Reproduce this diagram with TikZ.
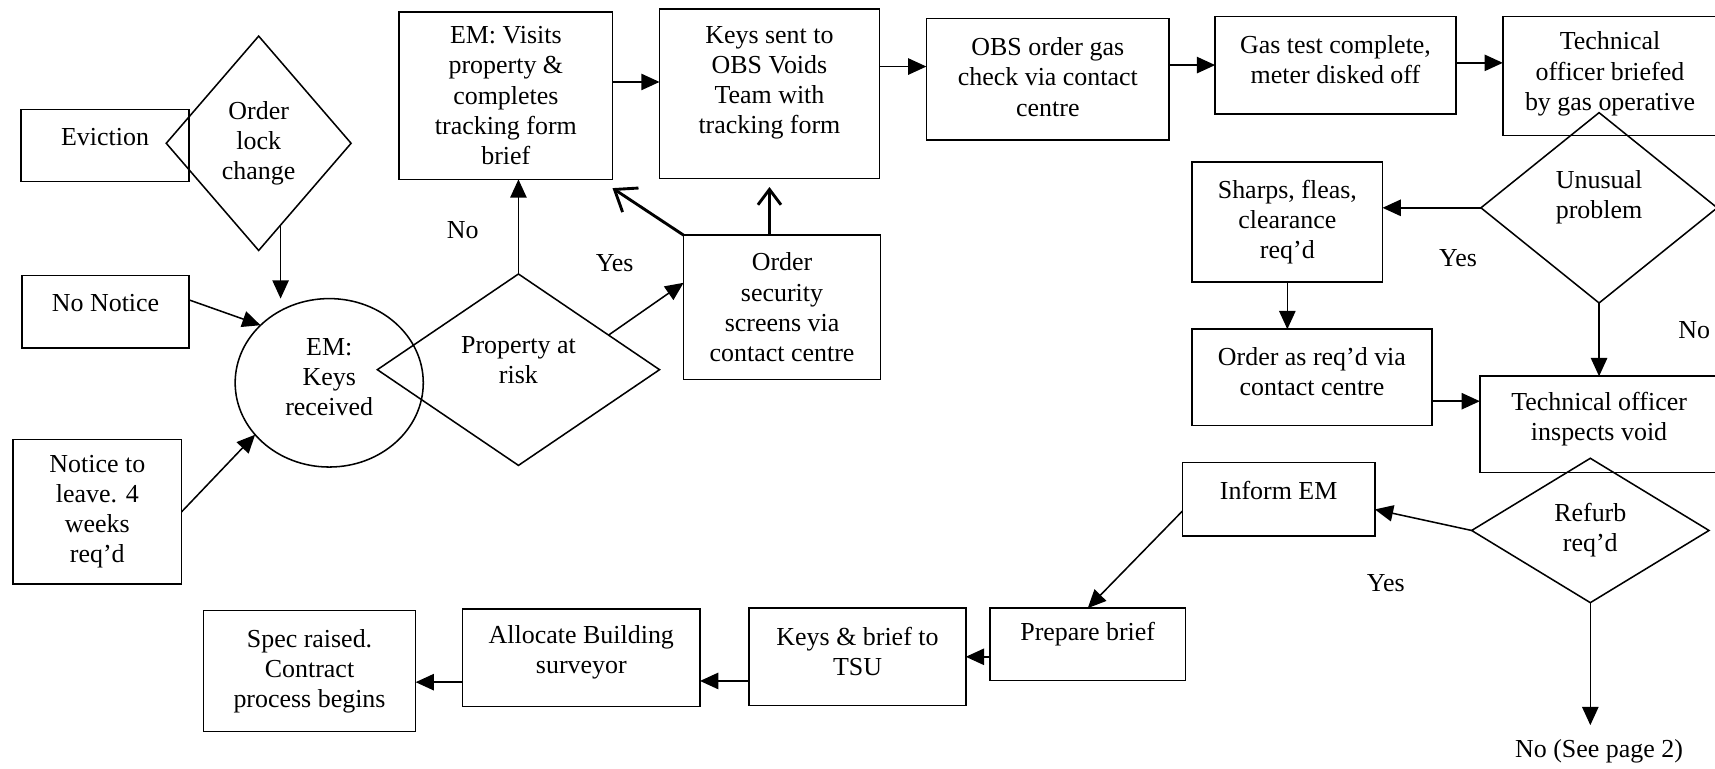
\documentclass[tikz,border=0pt]{standalone}
\usepackage{fontspec}
\setmainfont{Liberation Serif}
\usetikzlibrary{shapes.geometric,arrows.meta}
\def\pxu{0.02cm}
\tikzset{
  box/.style={draw, rectangle, line width=.8pt, inner sep=0pt, outer sep=0pt},
  dia/.style={draw, diamond, line width=.8pt, inner sep=0pt, outer sep=0pt},
  oval/.style={draw, ellipse, line width=.8pt, inner sep=0pt, outer sep=0pt},
  arr/.style={-{Triangle[length=9.5pt,width=8.5pt]}, line width=.8pt},
  penarr/.style={-{Straight Barb[length=8pt,width=12pt]}, line width=1.5pt}
}
\begin{document}
\begin{tikzpicture}[x=0.02cm, y=-0.02cm, font=\fontsize{13.5pt}{15.7pt}\selectfont]
    \useasboundingbox (0,0) rectangle (1568,703);
    % boxes: id / x / y / width / height / text lift / text
    \def \Boxes{evict/96/133/154/66/8/Eviction,
        nonot/96.5/285/153/66/8/No Notice,
        notice/89/468/154/132/0/{Notice to\\leave. 4\\weeks\\req’d},
        visits/462.5/87.5/195/153/0/{EM: Visits\\property \&\\completes\\tracking form\\brief},
        keys/703.5/85.5/201/155/10/{Keys sent to\\OBS Voids\\Team with\\tracking form},
        obs/958/72.5/222/111/2/{OBS order gas\\check via contact\\centre},
        gas/1221/59.5/220/89/5/{Gas test complete,\\meter disked off},
        brief/1472/69.5/196/109/2/{Technical\\officer briefed\\by gas operative},
        screens/715/281/180/132/0/{Order\\security\\screens via\\contact centre},
        sharps/1177/203/174/110/0/{Sharps, fleas,\\clearance\\req’d},
        orderas/1199.5/345/219/88/5/{Order as req’d via\\contact centre},
        inspect/1462/388/218/88/5/{Technical officer\\inspects void},
        inform/1169/456.5/176/67/8/Inform EM,
        prepare/994.5/589/179/66/9/Prepare brief,
        tsu/784/600.5/198/89/5/{Keys \& brief to\\TSU},
        alloc/531.5/601.5/217/89/5/{Allocate Building\\surveyor},
        spec/283/613.5/194/111/0/{Spec raised.\\Contract\\process begins}}
    \def \Diamonds{lock/236.5/131/169/196/0/{Order\\lock\\change},
        risk/474/338/258/175/9/{Property at\\risk},
        unusual/1462/190/216/174/10/{Unusual\\problem},
        refurb/1454/485/217/132/0/{Refurb\\req’d}}
    \def \Notes{no1/423/210/No, yes1/562/241/Yes, yes2/1333/236/Yes,
        no2/1549/302/No, yes3/1267/533/Yes, page2/1462/687/No (See page 2)}
    \foreach \id / \x / \y / \w / \h / \dy / \txt in \Boxes{
        \node[box, minimum width=\w*\pxu, minimum height=\h*\pxu,
            label={[align=center, yshift=\dy*\pxu]center:\txt}] (\id) at (\x, \y) {};
    }
    \foreach \id / \x / \y / \w / \h / \dy / \txt in \Diamonds{
        \node[dia, minimum width=\w*\pxu, minimum height=\h*\pxu,
            label={[align=center, yshift=\dy*\pxu]center:\txt}] (\id) at (\x, \y) {};
    }
    \node[oval, minimum width=172*\pxu, minimum height=154*\pxu,
        label={[align=center, yshift=5*\pxu]center:{EM:\\Keys\\received}}] (circ) at (301, 350) {};
    \foreach \id / \x / \y / \txt in \Notes{
        \node (\id) at (\x, \y) {\txt};
    }
    \coordinate (nextpg) at (1454, 663);
    % connectors
    \def \Straight{nonot.8/circ.140, notice.east/circ.215, risk.21/screens.166,
        unusual.south/inspect.north, refurb.west/inform.-6, inform.187/prepare.north,
        refurb.south/nextpg}
    \def \Down{lock.-75/circ.north, risk.north/visits.south, sharps.south/orderas.north}
    \def \Into{visits.east/keys.174, keys.east/obs.174, obs.east/gas.west,
        gas.east/brief.173, orderas.east/inspect.169, prepare.west/tsu.east,
        tsu.west/alloc.349, alloc.west/spec.354}
    \foreach \a / \b in \Straight{
        \path[draw, arr] (\a) -- (\b);
    }
    \foreach \a / \b in \Down{
        \path[draw, arr] (\a) -- (\a |- \b);
    }
    \foreach \a / \b in \Into{
        \path[draw, arr] (\a |- \b) -- (\b);
    }
    \path[draw, arr] (unusual.west) -- (unusual.west -| sharps.east);
    % hand-drawn arrows
    \path[draw, penarr] (keys.south |- screens.north) -- ([yshift=-.16cm]keys.south);
    \path[draw, penarr, -{Straight Barb[length=10pt,width=15pt]}] (screens.north west) -- ([yshift=-.16cm]visits.south east);
\end{tikzpicture}
\end{document}
